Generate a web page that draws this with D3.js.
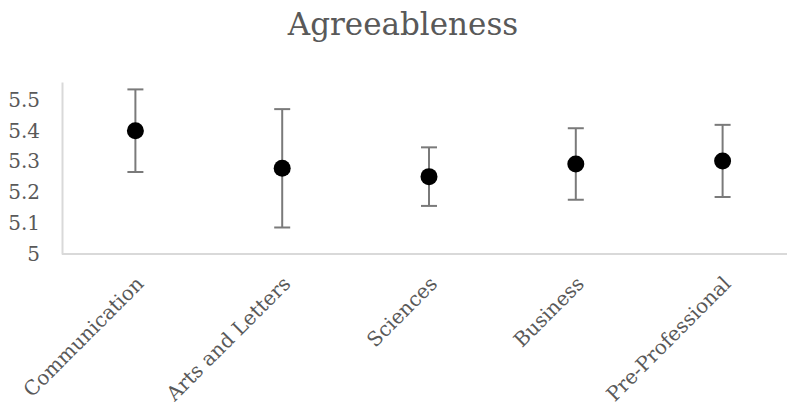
<!DOCTYPE html>
<html lang="en">
<head>
    <meta charset="UTF-8">
    <title>Agreeableness</title>
    <script src="https://cdn.jsdelivr.net/npm/d3@7/dist/d3.min.js"></script>
    <style>
        body{margin:0;background:#fff;}
        text{font-family:"DejaVu Serif","Liberation Serif",serif;fill:#595959;}
    </style>
</head>
<body>
<script>
    var categories=["Communication","Arts and Letters","Sciences","Business","Pre-Professional"];
    var means=[5.40,5.278,5.251,5.292,5.302];
    var errors=[0.134,0.192,0.095,0.116,0.117];
    var yTicks=[5,5.1,5.2,5.3,5.4,5.5];

    var width=787,height=410;
    var margin={top:82,left:62,bottom:156};
    var svg=d3.select("body").append("svg")
        .attr("width",width)
        .attr("height",height);

    // plot area runs past the right edge of the picture
    var xScale=d3.scalePoint().domain(categories).range([margin.left,796]).padding(0.5);
    var yScale=d3.scaleLinear().domain([5,5.558]).range([height-margin.bottom,margin.top]);

    // title
    svg.append("text")
        .attr("x",403)
        .attr("y",35)
        .attr("text-anchor","middle")
        .style("font-size","31px")
        .text("Agreeableness");

    // y axis
    var yAxis=d3.axisLeft(yScale).tickValues(yTicks).tickSize(0).tickPadding(22)
        .tickFormat(function(d){return d3.format("~g")(d);});
    var gy=svg.append("g")
        .attr("transform","translate("+margin.left+",0)")
        .call(yAxis);
    gy.select(".domain").attr("stroke","#d9d9d9").attr("stroke-width",2);
    gy.selectAll("text").style("font-size","20px").attr("fill","#595959").attr("font-family",null);

    // x axis
    var xAxis=d3.axisBottom(xScale).tickSize(0).tickSizeOuter(0);
    var gx=svg.append("g")
        .attr("transform","translate(0,"+yScale(5)+")")
        .call(xAxis);
    gx.select(".domain").attr("stroke","#d9d9d9").attr("stroke-width",2)
        .attr("d","M"+margin.left+",0H"+width);
    gx.selectAll("text")
        .style("font-size","20px")
        .attr("fill","#595959")
        .attr("font-family",null)
        .attr("text-anchor","end")
        .attr("dy",null)
        .attr("y",0)
        .attr("transform","translate(9,31) rotate(-45)");

    // error bars
    var g=svg.append("g");
    var capW=8;
    var eb=g.selectAll(".eb").data(categories).enter().append("g")
        .attr("stroke","#7a7a7a").attr("stroke-width",2);
    eb.append("line")
        .attr("x1",function(d){return xScale(d);})
        .attr("x2",function(d){return xScale(d);})
        .attr("y1",function(d,i){return yScale(means[i]+errors[i]);})
        .attr("y2",function(d,i){return yScale(means[i]-errors[i]);});
    eb.append("line")
        .attr("x1",function(d){return xScale(d)-capW;})
        .attr("x2",function(d){return xScale(d)+capW;})
        .attr("y1",function(d,i){return yScale(means[i]+errors[i]);})
        .attr("y2",function(d,i){return yScale(means[i]+errors[i]);});
    eb.append("line")
        .attr("x1",function(d){return xScale(d)-capW;})
        .attr("x2",function(d){return xScale(d)+capW;})
        .attr("y1",function(d,i){return yScale(means[i]-errors[i]);})
        .attr("y2",function(d,i){return yScale(means[i]-errors[i]);});

    // markers
    g.selectAll("circle").data(categories).enter().append("circle")
        .attr("cx",function(d){return xScale(d);})
        .attr("cy",function(d,i){return yScale(means[i]);})
        .attr("r",8.5)
        .attr("fill","#000");
</script>
</body>
</html>
